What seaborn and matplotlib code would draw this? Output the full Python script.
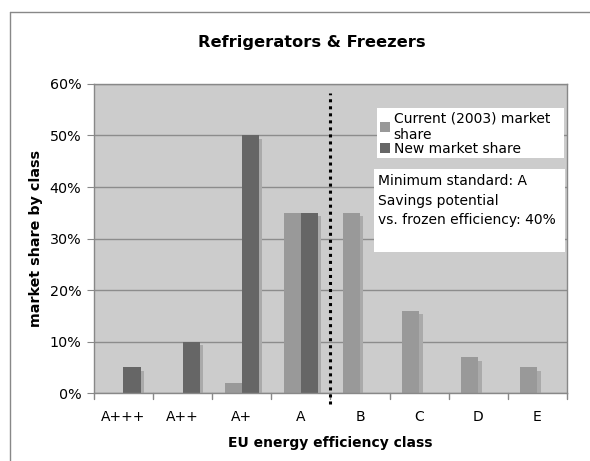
import matplotlib
matplotlib.use('Agg')
import matplotlib.pyplot as plt
import matplotlib.patheffects as pe
from matplotlib.patches import Rectangle
from matplotlib.lines import Line2D
import pandas as pd
import seaborn as sns

# dados
classes = ['A+++', 'A++', 'A+', 'A', 'B', 'C', 'D', 'E']
atual_2003 = [0, 0, 2, 35, 35, 16, 7, 5]
nova = [5, 10, 50, 35, 0, 0, 0, 0]
series = ['Current (2003) market\nshare', 'New market share']
y_ticks = [0, 10, 20, 30, 40, 50, 60]

df = pd.DataFrame({
    'classe': classes * 2,
    'share': atual_2003 + nova,
    'serie': [series[0]] * len(classes) + [series[1]] * len(classes),
})

sns.set_style('white')
plt.rcParams['font.family'] = ['DejaVu Sans']
plt.rcParams['text.color'] = 'black'
plt.rcParams['axes.labelcolor'] = 'black'
plt.rcParams['xtick.color'] = 'black'
plt.rcParams['ytick.color'] = 'black'

fig = plt.figure(figsize=(5.9, 4.61), dpi=100)
ax = fig.add_axes([0.159, 0.147, 0.802, 0.671])
ax.set_facecolor('#cccccc')

sns.barplot(data=df, x='classe', y='share', hue='serie', hue_order=series,
            order=classes, palette=['#999999', '#666666'], width=0.58,
            saturation=1, ax=ax, legend=True)

for bar in ax.patches:
    bar.set_edgecolor('none')
    bar.set_path_effects([pe.SimplePatchShadow(offset=(2.5, -2.5), shadow_rgbFace='#aaaaaa', alpha=1),
                          pe.Normal()])

ax.set_ylim(0, 60)
ax.set_xlim(-0.5, len(classes) - 0.5)
ax.set_yticks(y_ticks)
ax.set_yticklabels([f'{v}%' for v in y_ticks], fontsize=10.3)
ax.set_xticks(range(len(classes)))
ax.set_xticklabels(classes, fontsize=10)
ax.yaxis.grid(True, color='#8c8c8c', linewidth=1)
ax.set_axisbelow(True)

# ticks nas divisões das categorias (estilo Excel)
ax.tick_params(axis='x', length=0, pad=12)
ax.tick_params(axis='y', length=5, color='#888888', direction='out', left=True, pad=4)
for i in range(len(classes) + 1):
    ax.plot([i - 0.5, i - 0.5], [0, -0.02], transform=ax.get_xaxis_transform(),
            color='#888888', lw=1, clip_on=False)

for s in ax.spines.values():
    s.set_color('#888888')
    s.set_linewidth(1)

ax.set_xlabel('EU energy efficiency class', fontsize=10, fontweight='bold', labelpad=9)
ax.set_ylabel('market share by class', fontsize=10.3, fontweight='bold', labelpad=5)

# linha pontilhada entre A e B
ax.plot([3.5, 3.5], [-0.035, 0.97], transform=ax.get_xaxis_transform(),
        color='black', lw=2.2, linestyle=(0, (1, 1.3)), clip_on=False, zorder=5)

# caixa branca atrás da legenda
ax.add_patch(Rectangle((0.598, 0.761), 0.395, 0.161, transform=ax.transAxes,
                       facecolor='white', edgecolor='none', zorder=4, clip_on=False))
leg = ax.legend(loc='upper left', bbox_to_anchor=(0.6, 0.918), frameon=False,
                fontsize=10, handlelength=0.75, handleheight=0.75,
                handletextpad=0.25, borderpad=0.15, labelspacing=0.0, borderaxespad=0)
leg.set_zorder(6)
for h in leg.legend_handles:
    h.set_path_effects([])

ax.add_patch(Rectangle((0.592, 0.455), 0.404, 0.271, transform=ax.transAxes,
                       facecolor='white', edgecolor='none', zorder=4, clip_on=False))
ax.text(0.6, 0.708, 'Minimum standard: A\nSavings potential\nvs. frozen efficiency: 40%',
        transform=ax.transAxes, fontsize=10, va='top', ha='left', linespacing=1.5, zorder=6)

fig.text(312 / 590, 1 - 43 / 461, 'Refrigerators & Freezers', ha='center', va='center',
         fontsize=11.7, fontweight='bold')

# moldura do gráfico
fig.add_artist(Line2D([10 / 590, 10 / 590], [0, 1 - 12 / 461], color='#888888', lw=1))
fig.add_artist(Line2D([10 / 590, 1], [1 - 12 / 461, 1 - 12 / 461], color='#888888', lw=1))

fig.savefig('out.png', dpi=100)
